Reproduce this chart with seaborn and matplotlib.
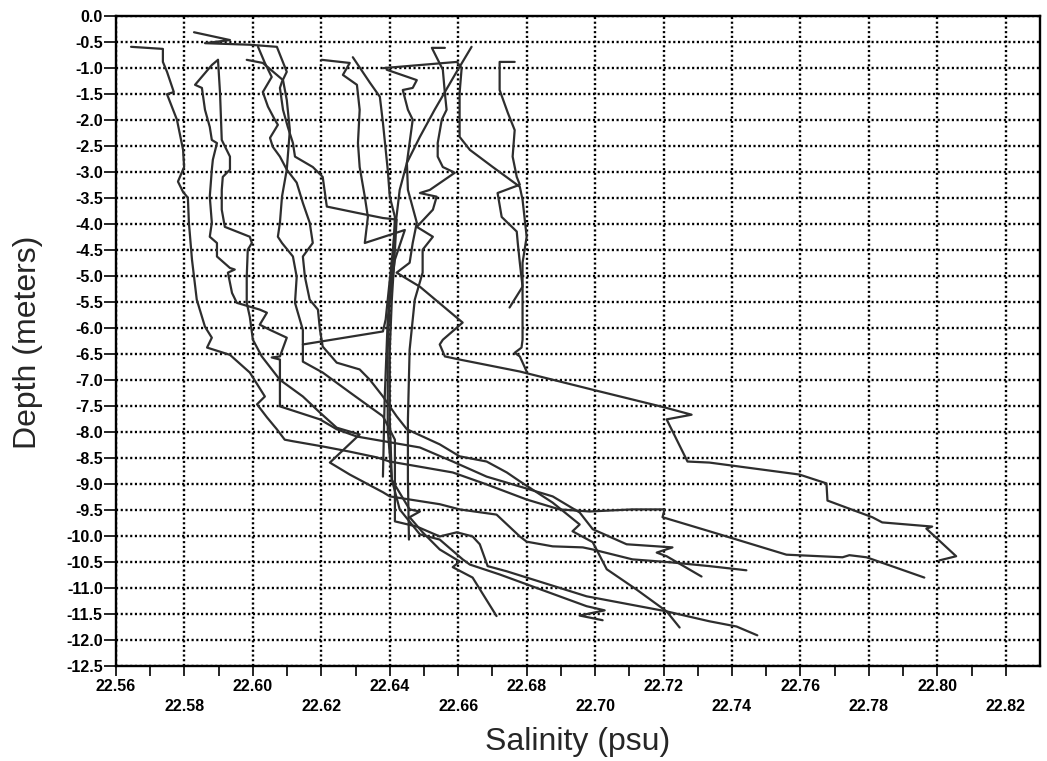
import pandas as pd
import matplotlib
matplotlib.use("Agg")
import matplotlib.pyplot as plt
import seaborn as sns

# --- 1. DATA: salinity (psu) / depth (m) pairs ---
sal_a = [22.5644, 22.5737, 22.5737, 22.5749, 22.5769, 22.5749, 22.5778, 22.5796, 22.5799, 22.5781,
         22.5796, 22.5810, 22.5813, 22.5822, 22.5836, 22.5860, 22.5880, 22.5866, 22.5933, 22.5991,
         22.6035, 22.6012, 22.6041, 22.6070, 22.6093, 22.6117, 22.6204, 22.6283, 22.6362, 22.6400,
         22.6488, 22.6584, 22.6683, 22.6800, 22.6896, 22.6984, 22.7109, 22.7203, 22.7197, 22.7334,
         22.7559, 22.7723, 22.7743, 22.7793, 22.7962]
dep_a = [-0.60, -0.64, -0.89, -1.08, -1.47, -1.51, -2.00, -2.58, -2.91, -3.19,
         -3.39, -3.50, -3.98, -4.69, -5.46, -5.98, -6.19, -6.38, -6.52, -6.86,
         -7.32, -7.47, -7.72, -7.95, -8.15, -8.18, -8.28, -8.38, -8.49, -8.57,
         -8.67, -8.78, -9.01, -9.30, -9.49, -9.53, -9.49, -9.49, -9.64, -9.91,
         -10.36, -10.41, -10.37, -10.41, -10.80]

sal_b = [22.5898, 22.5880, 22.5831, 22.5851, 22.5860, 22.5874, 22.5880, 22.5895, 22.5883, 22.5880,
         22.5874, 22.5880, 22.5874, 22.5895, 22.5895, 22.5933, 22.5947, 22.5927, 22.5939, 22.5953,
         22.6020, 22.6041, 22.6020, 22.6050, 22.6099, 22.6079, 22.6055, 22.6079, 22.6079, 22.6196,
         22.6245, 22.6304, 22.6488, 22.6584, 22.6683, 22.6780, 22.6876, 22.6955, 22.6993, 22.7092,
         22.7226, 22.7180, 22.7209, 22.7311]
dep_b = [-0.85, -0.95, -1.33, -1.39, -1.81, -2.14, -2.39, -2.45, -2.77, -2.96,
         -3.48, -3.98, -4.25, -4.37, -4.63, -4.85, -4.88, -4.94, -5.33, -5.52,
         -5.65, -5.71, -5.94, -6.04, -6.19, -6.55, -6.57, -6.61, -7.51, -7.76,
         -7.95, -8.09, -8.30, -8.57, -8.86, -9.05, -9.24, -9.55, -9.87, -10.16,
         -10.22, -10.32, -10.39, -10.78]

sal_c = [22.5898, 22.5904, 22.5909, 22.5933, 22.5933, 22.5912, 22.5909, 22.5909, 22.5918, 22.5991,
         22.5997, 22.5985, 22.5982, 22.5982, 22.5991, 22.6000, 22.6026, 22.6079, 22.6146, 22.6196,
         22.6245, 22.6312, 22.6225, 22.6283, 22.6380, 22.6400, 22.6546, 22.6604, 22.6712, 22.6780,
         22.6800, 22.6876, 22.6964, 22.6993, 22.7109, 22.7226, 22.7334, 22.7442]
dep_c = [-0.85, -1.49, -2.39, -2.71, -2.96, -3.10, -3.35, -3.73, -4.06, -4.25,
         -4.37, -4.50, -5.02, -5.52, -5.79, -6.23, -6.55, -7.00, -7.32, -7.63,
         -7.92, -8.05, -8.59, -8.82, -9.16, -9.24, -9.39, -9.49, -9.59, -10.01,
         -10.11, -10.20, -10.22, -10.26, -10.45, -10.51, -10.58, -10.66]

sal_d = [22.5828, 22.5933, 22.5860, 22.5991, 22.6070, 22.6099, 22.6085, 22.6079, 22.6088, 22.6102,
         22.6117, 22.6123, 22.6175, 22.6204, 22.6216, 22.6304, 22.6380, 22.6420, 22.6415, 22.6406,
         22.6400, 22.6400, 22.6406, 22.6429, 22.6488, 22.6546, 22.6613, 22.6634, 22.6721, 22.6975,
         22.7028, 22.6955, 22.7022]
dep_d = [-0.32, -0.47, -0.53, -0.56, -0.60, -1.08, -1.27, -1.39, -1.81, -2.14,
         -2.45, -2.71, -2.91, -3.10, -3.67, -3.79, -3.89, -3.92, -4.50, -5.46,
         -6.42, -7.76, -8.92, -9.49, -9.97, -10.07, -10.45, -10.55, -10.74, -11.35,
         -11.43, -11.53, -11.62]

sal_e = [22.6015, 22.6035, 22.6055, 22.6029, 22.6044, 22.6064, 22.6073, 22.6050, 22.6058, 22.6079,
         22.6099, 22.6128, 22.6146, 22.6166, 22.6175, 22.6146, 22.6152, 22.6166, 22.6190, 22.6196,
         22.6204, 22.6245, 22.6312, 22.6342, 22.6380, 22.6420, 22.6450, 22.6546, 22.6604, 22.6683,
         22.6742, 22.6780, 22.6876, 22.6955, 22.6934, 22.6993, 22.7034, 22.7121, 22.7209, 22.7247]
dep_e = [-0.60, -0.91, -1.18, -1.47, -1.75, -2.00, -2.10, -2.35, -2.52, -2.71,
         -2.96, -3.21, -3.60, -3.98, -4.37, -4.63, -5.02, -5.46, -5.65, -6.04,
         -6.36, -6.67, -6.80, -7.00, -7.32, -7.70, -7.95, -8.24, -8.47, -8.57,
         -8.78, -8.95, -9.36, -9.78, -9.91, -10.12, -10.64, -11.03, -11.45, -11.76]

sal_f = [22.5982, 22.6029, 22.6088, 22.6099, 22.6108, 22.6099, 22.6085, 22.6079, 22.6073, 22.6085,
         22.6117, 22.6128, 22.6123, 22.6146, 22.6146, 22.6204, 22.6283, 22.6380, 22.6415, 22.6415,
         22.6415, 22.6479, 22.6546, 22.6596, 22.6642, 22.6663, 22.6686, 22.6742, 22.6975, 22.7209,
         22.7334, 22.7413, 22.7474]
dep_f = [-0.85, -0.91, -1.24, -1.62, -2.20, -2.96, -3.48, -3.98, -4.25, -4.37,
         -4.63, -5.02, -5.52, -6.04, -6.65, -6.86, -7.24, -7.70, -8.15, -9.26,
         -9.72, -9.82, -10.01, -9.93, -10.01, -10.16, -10.58, -10.68, -11.16, -11.45,
         -11.64, -11.74, -11.91]

sal_g = [22.6201, 22.6283, 22.6263, 22.6304, 22.6312, 22.6307, 22.6312, 22.6327, 22.6336, 22.6327,
         22.6444, 22.6415, 22.6400, 22.6394, 22.6394, 22.6406, 22.6458, 22.6488, 22.6458, 22.6496,
         22.6546, 22.6604, 22.6584, 22.6642, 22.6712]
dep_g = [-0.85, -0.91, -1.14, -1.33, -1.81, -2.45, -2.91, -3.48, -3.87, -4.37,
         -4.12, -4.69, -5.46, -6.42, -7.95, -8.92, -9.49, -9.53, -9.64, -9.93,
         -10.26, -10.49, -10.60, -10.80, -11.54]

sal_h = [22.6292, 22.6342, 22.6371, 22.6380, 22.6394, 22.6400, 22.6415, 22.6409, 22.6394, 22.6385,
         22.6380]
dep_h = [-0.80, -1.29, -1.56, -2.06, -2.96, -3.48, -3.87, -4.69, -5.84, -7.38,
         -8.86]

sal_i = [22.6391, 22.6479, 22.6467, 22.6438, 22.6453, 22.6467, 22.6450, 22.6453, 22.6479, 22.6467,
         22.6458, 22.6420, 22.6488, 22.6613, 22.6555, 22.6546, 22.6561, 22.6604, 22.6780, 22.6993,
         22.7203, 22.7282, 22.7209, 22.7270, 22.7334, 22.7597, 22.7676, 22.7679, 22.7810, 22.7839,
         22.7985, 22.7968, 22.8055, 22.8006]
dep_i = [-1.04, -1.24, -1.39, -1.43, -1.81, -2.00, -2.83, -3.35, -3.98, -4.37,
         -4.75, -4.94, -5.21, -5.90, -6.23, -6.32, -6.55, -6.61, -6.84, -7.19,
         -7.53, -7.67, -7.76, -8.57, -8.59, -8.82, -8.99, -9.32, -9.64, -9.74,
         -9.82, -9.86, -10.39, -10.47]

sal_j = [22.6380, 22.6596, 22.6610, 22.6604, 22.6604, 22.6634, 22.6701, 22.6780, 22.6788, 22.6800,
         22.6788, 22.6788, 22.6788, 22.6785, 22.6765, 22.6780, 22.6800]
dep_j = [-1.01, -0.89, -1.01, -1.49, -2.33, -2.58, -2.91, -3.29, -3.54, -4.25,
         -4.75, -5.46, -6.23, -6.38, -6.48, -6.55, -6.84]

sal_k = [22.6765, 22.6721, 22.6721, 22.6745, 22.6765, 22.6759, 22.6771, 22.6780, 22.6715, 22.6727,
         22.6771, 22.6774, 22.6780, 22.6788, 22.6750]
dep_k = [-0.89, -0.89, -1.43, -1.87, -2.20, -2.71, -3.10, -3.25, -3.41, -3.87,
         -4.15, -4.37, -4.75, -5.21, -5.61]

sal_l = [22.6561, 22.6523, 22.6555, 22.6561, 22.6566, 22.6552, 22.6540, 22.6540, 22.6555, 22.6590,
         22.6517, 22.6488, 22.6537, 22.6526, 22.6479, 22.6526, 22.6496, 22.6496, 22.6473, 22.6458,
         22.6453, 22.6453, 22.6456]
dep_l = [-0.62, -0.62, -1.04, -1.49, -1.81, -2.00, -2.45, -2.71, -2.91, -3.02,
         -3.35, -3.41, -3.48, -3.73, -4.06, -4.25, -4.50, -4.94, -5.46, -6.42,
         -7.76, -8.92, -10.07]

sal_m = [22.6639, 22.6590, 22.6531, 22.6488, 22.6450, 22.6429, 22.6415, 22.6400, 22.6388, 22.6380,
         22.6146]
dep_m = [-0.60, -1.14, -1.81, -2.33, -2.83, -3.35, -4.12, -5.08, -5.84, -6.07,
         -6.32]

x_ticks = [22.56, 22.58, 22.60, 22.62, 22.64, 22.66, 22.68, 22.70, 22.72, 22.74, 22.76, 22.78, 22.80, 22.82]
x_minor = [22.57, 22.59, 22.61, 22.63, 22.65, 22.67, 22.69, 22.71, 22.73, 22.75, 22.77, 22.79, 22.81]
y_ticks = [0.0, -0.5, -1.0, -1.5, -2.0, -2.5, -3.0, -3.5, -4.0, -4.5, -5.0, -5.5, -6.0,
           -6.5, -7.0, -7.5, -8.0, -8.5, -9.0, -9.5, -10.0, -10.5, -11.0, -11.5, -12.0, -12.5]

profiles = [(sal_a, dep_a), (sal_b, dep_b), (sal_c, dep_c), (sal_d, dep_d), (sal_e, dep_e),
            (sal_f, dep_f), (sal_g, dep_g), (sal_h, dep_h), (sal_i, dep_i), (sal_j, dep_j),
            (sal_k, dep_k), (sal_l, dep_l), (sal_m, dep_m)]

frames = []
for n, (s, d) in enumerate(profiles):
    frames.append(pd.DataFrame({"salinity": s, "depth": d, "profile": n}))
df = pd.concat(frames, ignore_index=True)

# --- 2. PLOT ---
sns.set_style("ticks")
plt.rcParams["font.family"] = ["Liberation Sans", "DejaVu Sans"]
plt.rcParams["axes.unicode_minus"] = False

fig = plt.figure(figsize=(10.47, 7.61), dpi=100)
ax = fig.add_axes([0.1108, 0.1248, 0.8825, 0.8547])

sns.lineplot(data=df, x="salinity", y="depth", units="profile", estimator=None,
             sort=False, color="#2e2e2e", linewidth=1.6, ax=ax, legend=False)

ax.set_xlim(22.56, 22.83)
ax.set_ylim(-12.5, 0.0)

# staggered x labels: every other one drops to a second row
ax.set_xticks(x_ticks)
ax.set_xticklabels([f"{v:.2f}" if i % 2 == 0 else f"\n{v:.2f}" for i, v in enumerate(x_ticks)])
ax.set_xticks(x_minor, minor=True)
ax.set_yticks(y_ticks)
ax.set_yticklabels([f"{v:.1f}" for v in y_ticks])

# heavy dotted grid like the printout
ax.set_axisbelow(True)
ax.grid(True, which="major", color="black", linestyle=(0, (0.9, 1.1)), linewidth=1.7)
ax.tick_params(axis="x", which="both", length=7, width=1.2, direction="out", pad=2, labelsize=11.5, colors="black")
ax.tick_params(axis="y", length=9, width=1.2, direction="out", pad=0.5, labelsize=11.5, colors="black")
for lab in ax.get_xticklabels() + ax.get_yticklabels():
    lab.set_fontweight("bold")
    lab.set_linespacing(1.45)

for sp in ax.spines.values():
    sp.set_visible(True)
    sp.set_linewidth(1.7)
    sp.set_color("black")

ax.set_xlabel("")
ax.set_ylabel("")
fig.text(578 / 1047, 1 - 742 / 761, "Salinity (psu)", ha="center", va="center", fontsize=23)
fig.text(28 / 1047, 1 - 342 / 761, "Depth (meters)", rotation=90, ha="center", va="center", fontsize=23)

fig.savefig("out.png", dpi=100)
plt.close(fig)
